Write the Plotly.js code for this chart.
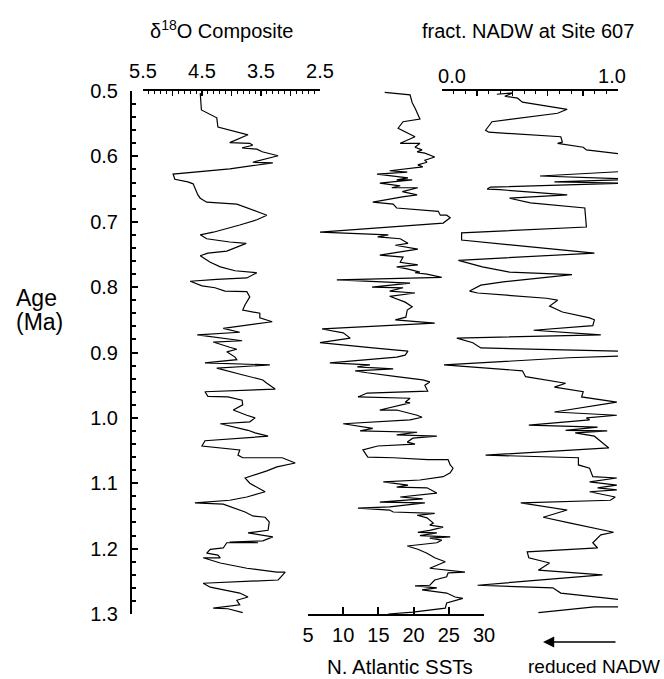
<!DOCTYPE html>
<html>
<head>
<meta charset="utf-8">
<script src="https://cdn.plot.ly/plotly-3.0.1.min.js"></script>
<style>html,body{margin:0;padding:0;background:#fff;}</style>
</head>
<body>
<div id="chart" style="width:664px;height:679px;"></div>
<script>
// ---- δ18O composite ----
const d18oAge = [0.503,0.529,0.541,0.555,0.567,0.579,0.580,0.583,0.587,0.589,
0.593,0.599,0.609,0.610,0.619,0.627,0.635,0.639,0.642,0.659,
0.664,0.670,0.673,0.679,0.690,0.697,0.705,0.716,0.720,0.726,
0.731,0.733,0.745,0.748,0.752,0.762,0.769,0.775,0.778,0.786,
0.788,0.791,0.798,0.801,0.806,0.807,0.815,0.827,0.835,0.840,
0.847,0.853,0.863,0.869,0.873,0.882,0.884,0.892,0.895,0.899,
0.907,0.911,0.916,0.919,0.924,0.934,0.942,0.947,0.956,0.960,
0.967,0.968,0.973,0.980,0.988,0.996,1.000,1.006,1.009,1.019,
1.023,1.028,1.035,1.043,1.048,1.049,1.057,1.061,1.061,1.069,
1.075,1.081,1.092,1.100,1.113,1.121,1.126,1.130,1.132,1.144,
1.150,1.152,1.159,1.172,1.176,1.182,1.188,1.190,1.191,1.191,
1.199,1.201,1.207,1.210,1.214,1.214,1.222,1.230,1.236,1.236,
1.245,1.248,1.253,1.259,1.268,1.274,1.279,1.286,1.291,1.292,1.298];
const d18oVal = [4.53,4.51,4.25,4.23,3.72,4.03,3.69,3.64,3.82,3.57,
3.48,3.21,3.64,3.30,4.03,4.99,4.96,4.74,4.65,4.57,
4.53,4.42,3.91,3.72,3.40,3.57,3.86,4.31,4.53,4.42,
4.03,3.75,4.08,4.40,4.53,4.36,4.19,3.94,3.57,3.74,
4.25,4.70,4.50,4.28,4.11,3.74,3.69,3.77,3.81,3.52,
3.52,3.31,4.14,3.86,4.58,3.82,4.31,4.03,3.91,4.08,
3.94,3.91,4.45,3.35,4.25,3.82,3.47,3.40,3.26,4.45,
4.40,4.06,3.82,3.81,3.97,3.74,3.60,3.69,4.19,3.72,
3.60,3.38,4.45,4.50,4.03,3.86,3.89,3.81,3.14,2.92,
3.23,3.40,3.77,3.69,3.43,3.74,4.03,4.62,4.14,3.77,
3.64,3.43,3.36,3.38,3.72,3.30,3.47,4.03,3.55,4.08,
4.14,4.36,4.42,4.23,4.19,4.48,4.19,3.74,3.23,3.09,
3.18,3.21,4.48,4.36,3.86,3.72,3.91,3.86,4.31,4.06,3.81];

// ---- N. Atlantic SSTs ----
const sstAge = [0.502,0.506,0.518,0.526,0.543,0.547,0.557,0.564,0.570,0.580,
0.580,0.586,0.590,0.593,0.595,0.601,0.606,0.609,0.613,0.616,
0.622,0.624,0.627,0.633,0.636,0.636,0.641,0.645,0.648,0.648,
0.654,0.659,0.662,0.670,0.673,0.679,0.684,0.690,0.690,0.694,
0.702,0.716,0.720,0.723,0.726,0.733,0.736,0.742,0.751,0.754,
0.762,0.766,0.769,0.772,0.777,0.778,0.780,0.785,0.789,0.794,
0.800,0.801,0.806,0.809,0.814,0.823,0.830,0.835,0.846,0.850,
0.855,0.864,0.870,0.878,0.885,0.893,0.898,0.904,0.907,0.916,
0.919,0.922,0.925,0.928,0.931,0.937,0.942,0.945,0.950,0.959,
0.962,0.968,0.970,0.976,0.977,0.988,0.988,0.996,0.999,1.003,
1.009,1.016,1.020,1.022,1.026,1.028,1.031,1.037,1.040,1.043,
1.049,1.060,1.061,1.064,1.064,1.072,1.077,1.084,1.090,1.095,
1.098,1.103,1.106,1.107,1.115,1.121,1.124,1.129,1.130,1.136,
1.138,1.141,1.144,1.146,1.149,1.153,1.161,1.164,1.167,1.172,
1.175,1.176,1.180,1.182,1.184,1.187,1.191,1.196,1.201,1.207,
1.214,1.220,1.230,1.236,1.237,1.243,1.248,1.256,1.257,1.260,
1.263,1.268,1.274,1.276,1.283,1.291,1.297,1.300];
const sstVal = [15.9,19.5,19.8,20.2,20.9,18.5,17.8,19.1,20.2,18.1,
20.9,20.2,21.2,20.5,21.6,23.0,21.6,21.9,20.6,21.3,
16.6,19.1,14.8,19.2,17.6,19.8,15.2,18.1,16.9,20.6,
18.4,20.5,18.4,14.2,17.1,17.6,23.5,23.8,24.7,25.2,
24.2,6.7,16.4,14.9,18.1,19.2,17.4,20.6,15.2,18.5,
18.1,20.6,17.6,19.1,20.9,20.2,21.9,24.0,9.1,19.5,
14.1,18.5,16.6,20.2,16.6,18.8,19.8,19.1,18.9,17.4,
23.0,7.0,10.0,11.0,6.7,14.2,19.2,18.8,17.6,8.1,
13.8,12.0,17.1,11.7,13.4,17.6,21.3,22.3,21.6,22.0,
13.4,12.1,19.5,18.8,19.5,15.2,17.6,20.5,21.2,19.5,
10.0,14.2,12.4,20.5,17.6,23.3,19.9,19.1,20.2,14.9,
12.8,13.5,17.1,22.0,24.9,25.2,25.6,25.2,24.2,20.9,
15.7,19.2,17.6,21.9,23.3,18.1,21.3,15.2,21.6,16.6,
12.1,16.6,17.1,23.0,20.5,21.9,22.8,22.3,24.2,22.3,
20.6,23.3,20.9,25.2,22.3,24.0,23.3,19.1,20.6,21.9,
23.0,24.5,22.3,27.3,24.9,24.7,23.0,22.3,20.2,23.3,
21.2,24.7,25.9,27.0,24.7,24.5,19.9,16.4];

// ---- fract. NADW at Site 607 ----
const nadwAge = [0.505,0.503,0.508,0.511,0.517,0.528,0.534,0.547,0.560,0.563,
0.570,0.578,0.580,0.586,0.590,0.596,0.610,0.622,0.630,0.635,
0.639,0.641,0.647,0.650,0.651,0.659,0.664,0.671,0.679,0.708,
0.717,0.728,0.748,0.759,0.769,0.777,0.781,0.792,0.797,0.806,
0.809,0.817,0.820,0.829,0.838,0.847,0.850,0.859,0.866,0.873,
0.878,0.885,0.893,0.899,0.905,0.908,0.919,0.928,0.937,0.947,
0.953,0.960,0.968,0.976,0.991,0.996,1.000,1.003,1.011,1.014,
1.019,1.020,1.023,1.028,1.038,1.046,1.057,1.061,1.072,1.077,
1.090,1.092,1.098,1.103,1.107,1.110,1.113,1.121,1.126,1.130,
1.141,1.152,1.161,1.175,1.179,1.191,1.199,1.205,1.214,1.222,
1.233,1.240,1.256,1.260,1.268,1.276,1.282,1.289,1.289,1.298];
const nadwVal = [0.28,0.38,0.33,0.41,0.44,0.72,0.66,0.25,0.21,0.23,
0.68,0.69,0.66,0.82,0.84,1.04,1.25,1.15,0.55,1.15,
0.64,1.10,0.24,0.22,0.30,0.72,0.36,0.49,0.83,0.84,
0.06,0.06,0.89,0.04,0.19,0.36,0.75,0.32,0.18,0.11,
0.16,0.59,0.66,0.61,0.69,0.86,0.89,0.88,0.51,0.93,
0.03,0.13,0.18,1.20,1.10,0.73,-0.05,0.44,0.46,0.71,
0.64,0.82,0.81,1.03,0.64,1.03,0.84,0.86,0.48,0.91,
0.71,0.97,0.77,0.89,0.94,0.98,0.21,0.79,0.79,0.86,
0.88,1.03,0.86,1.03,0.91,1.03,0.86,1.02,0.99,0.43,
0.72,0.57,0.74,1.01,0.93,0.88,0.91,0.47,0.48,0.61,
0.54,0.94,0.16,0.63,0.68,1.03,1.20,1.10,0.89,0.54];

// ---- tick labels ----
const ageTicks = [0.5,0.6,0.7,0.8,0.9,1.0,1.1,1.2,1.3];
const d18oTickVals = [5.5,5.0,4.5,4.0,3.5,3.0,2.5];
const d18oTickText = ['5.5','','4.5','','3.5','','2.5'];
const sstTickVals = [5,10,15,20,25,30];
const nadwTickVals = [0,1];
const nadwTickText = ['0.0','1.0'];
const nadwMajorTicks = [-0.0625,0.1575,0.3775,0.5975,0.8175,1.0375];

const FONT = 'Liberation Sans, Arial, Helvetica, sans-serif';
const line = {color:'#000', width:1.2};

const traces = [
  {x:d18oVal, y:d18oAge, xaxis:'x', yaxis:'y', mode:'lines', line:line, hoverinfo:'skip'},
  {x:sstVal, y:sstAge, xaxis:'x2', yaxis:'y', mode:'lines', line:line, hoverinfo:'skip'},
  {x:nadwVal, y:nadwAge, xaxis:'x3', yaxis:'y', mode:'lines', line:line, hoverinfo:'skip'},
  {x:[], y:[], xaxis:'x4', yaxis:'y', mode:'lines', hoverinfo:'skip'}
];

const L = 131, R = 618, W = R - L;
const dom = (a,b) => [(a-L)/W, (b-L)/W];
const T = 91, B = 614, H = B - T;
const py = v => (B - v)/H;
const px = v => (v - L)/W;

const axBase = {showgrid:false, zeroline:false, showline:true, linecolor:'#000', linewidth:2,
  tickcolor:'#000', tickfont:{family:FONT, size:20, color:'#000'}, fixedrange:true};

const layout = {
  width:664, height:679,
  margin:{l:L, r:664-R, t:T, b:679-B, pad:0},
  paper_bgcolor:'#fff', plot_bgcolor:'rgba(0,0,0,0)',
  showlegend:false,
  font:{family:FONT, size:20, color:'#000'},
  yaxis: Object.assign({}, axBase, {
    range:[1.3,0.5], anchor:'free', position:0,
    tickvals:ageTicks, tickformat:'.1f',
    ticks:'inside', ticklen:6, tickwidth:2, ticklabelstandoff:8,
    minor:{dtick:0.02, tick0:0.5, ticks:'inside', ticklen:4, tickwidth:2, tickcolor:'#000'}
  }),
  xaxis: Object.assign({}, axBase, {
    domain:dom(143,320), range:[5.5,2.5], side:'top', anchor:'y',
    tickvals:d18oTickVals, ticktext:d18oTickText,
    ticks:'inside', ticklen:5, tickwidth:1.5, ticklabelstandoff:3,
    minor:{dtick:0.1, tick0:0, ticks:'inside', ticklen:3, tickwidth:1, tickcolor:'#000'}
  }),
  xaxis2: Object.assign({}, axBase, {
    domain:dom(308,484), range:[5,30], side:'bottom', anchor:'y',
    tickvals:sstTickVals, ticks:'inside', ticklen:7, tickwidth:2, ticklabelstandoff:2
  }),
  xaxis3: Object.assign({}, axBase, {
    domain:dom(442,618), range:[-0.0625,1.0375], side:'top', anchor:'y',
    tickvals:nadwMajorTicks, showticklabels:false,
    ticks:'inside', ticklen:5, tickwidth:1.5,
    minor:{tick0:-0.0625, dtick:0.073333, ticks:'inside', ticklen:3, tickwidth:1, tickcolor:'#000'}
  }),
  xaxis4: Object.assign({}, axBase, {
    overlaying:'x3', range:[-0.0625,1.0375], side:'top', anchor:'y',
    showline:false, ticks:'', tickvals:nadwTickVals, ticktext:nadwTickText, ticklabelstandoff:3
  }),
  annotations:[
    {text:'δ<sup>18</sup>O Composite', xref:'paper', yref:'paper', x:px(221), y:py(30),
     xanchor:'center', yanchor:'middle', showarrow:false, font:{family:FONT, size:20}},
    {text:'fract. NADW at Site 607', xref:'paper', yref:'paper', x:px(528), y:py(31),
     xanchor:'center', yanchor:'middle', showarrow:false, font:{family:FONT, size:20}},
    {text:'N. Atlantic SSTs', xref:'paper', yref:'paper', x:px(400), y:py(666),
     xanchor:'center', yanchor:'middle', showarrow:false, font:{family:FONT, size:20.5}},
    {text:'reduced NADW', xref:'paper', yref:'paper', x:px(662), y:py(666),
     xanchor:'right', yanchor:'middle', showarrow:false, font:{family:FONT, size:19}},
    {text:'Age', xref:'paper', yref:'paper', x:px(14), y:py(298),
     xanchor:'left', yanchor:'middle', showarrow:false, font:{family:FONT, size:23}},
    {text:'(Ma)', xref:'paper', yref:'paper', x:px(14), y:py(322),
     xanchor:'left', yanchor:'middle', showarrow:false, font:{family:FONT, size:23}},
    {text:'', xref:'paper', yref:'paper', x:px(543), y:py(642), ax:74, ay:0,
     showarrow:true, arrowhead:2, arrowsize:1.4, arrowwidth:1.6, arrowcolor:'#000'}
  ]
};

Plotly.newPlot('chart', traces, layout, {staticPlot:true, displayModeBar:false});
</script>
</body>
</html>
